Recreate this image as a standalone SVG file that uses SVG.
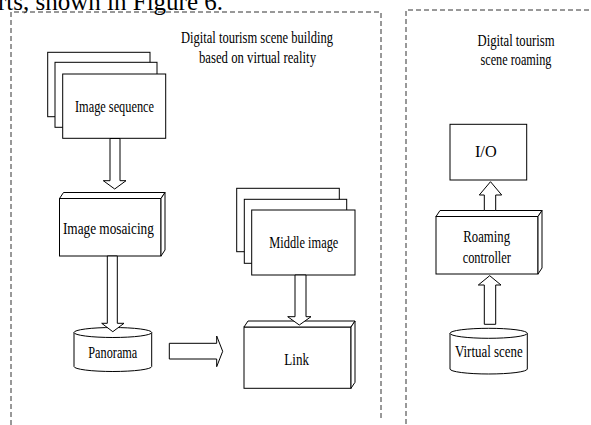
<svg xmlns="http://www.w3.org/2000/svg" width="591" height="425" viewBox="0 0 591 425">
<style>
.bx{fill:#fff;stroke:#000;stroke-width:1}
.ar{fill:#fff;stroke:#000;stroke-width:1}
.dash{fill:none;stroke:#333;stroke-width:1;stroke-dasharray:5,3}
text{font-family:"Liberation Serif","Times New Roman",serif;fill:#000}
.t{font-size:16.5px;text-anchor:middle}
</style>
<rect width="591" height="425" fill="#fff"/>
<text x="-2" y="10" style="font-size:25px">rts, shown in Figure 6.</text>
<g id="frames">
<path class="dash" d="M11,425 V12 H381 V421"/>
<path class="dash" d="M406,424 V10 H591"/>
</g>
<g id="titles">
<text class="t" x="257" y="43" textLength="152" lengthAdjust="spacingAndGlyphs">Digital tourism scene building</text>
<text class="t" x="257.5" y="63" textLength="117" lengthAdjust="spacingAndGlyphs">based on virtual reality</text>
<text class="t" x="516" y="45.5" textLength="77" lengthAdjust="spacingAndGlyphs">Digital tourism</text>
<text class="t" x="516" y="64.5" textLength="71" lengthAdjust="spacingAndGlyphs">scene roaming</text>
</g>
<g id="image-sequence">
<rect class="bx" x="47.7" y="52.3" width="102.3" height="64.4"/>
<rect class="bx" x="55" y="62.3" width="102" height="65"/>
<rect class="bx" x="62.7" y="74" width="103" height="64.3"/>
<text class="t" x="114.5" y="111.5" textLength="79" lengthAdjust="spacingAndGlyphs">Image sequence</text>
</g>
<g id="image-mosaicing">
<rect class="bx" x="59.5" y="198.5" width="101.5" height="57.5"/>
<path class="bx" d="M59.5,198.5 L63.5,192.5 H165 L161,198.5 Z"/>
<path class="bx" d="M161,198.5 L165,192.5 V250 L161,256 Z"/>
<text class="t" x="108.4" y="233.5" textLength="91" lengthAdjust="spacingAndGlyphs">Image mosaicing</text>
</g>
<g id="panorama">
<path class="bx" d="M74,332.5 V366.5 A38.85,5 0 0 0 151.7,366.5 V332.5"/>
<ellipse class="bx" cx="112.85" cy="332.5" rx="38.85" ry="5"/>
<text class="t" x="112.8" y="358" textLength="49" lengthAdjust="spacingAndGlyphs">Panorama</text>
</g>
<g id="middle-image">
<rect class="bx" x="236.7" y="188.3" width="102.6" height="63.4"/>
<rect class="bx" x="244.3" y="199.3" width="102.4" height="64"/>
<rect class="bx" x="251.7" y="210" width="103.3" height="65"/>
<text class="t" x="303.8" y="247.5" textLength="69" lengthAdjust="spacingAndGlyphs">Middle image</text>
</g>
<g id="link">
<rect class="bx" x="244" y="327" width="107" height="61.3"/>
<path class="bx" d="M244,327 L248,321 H355 L351,327 Z"/>
<path class="bx" d="M351,327 L355,321 V382.3 L351,388.3 Z"/>
<text class="t" x="296.7" y="364.5" textLength="24.7" lengthAdjust="spacingAndGlyphs">Link</text>
</g>
<g id="io">
<rect class="bx" x="450" y="124.3" width="76.7" height="55.7"/>
<text class="t" x="485.8" y="157" textLength="21.7" lengthAdjust="spacingAndGlyphs">I/O</text>
</g>
<g id="roaming-controller">
<rect class="bx" x="436" y="216.5" width="102" height="57.5"/>
<path class="bx" d="M436,216.5 L440,210.5 H542 L538,216.5 Z"/>
<path class="bx" d="M538,216.5 L542,210.5 V268 L538,274 Z"/>
<text class="t" x="486.7" y="242" textLength="46.7" lengthAdjust="spacingAndGlyphs">Roaming</text>
<text class="t" x="486.8" y="262.5" textLength="48.3" lengthAdjust="spacingAndGlyphs">controller</text>
</g>
<g id="virtual-scene">
<path class="bx" d="M450,333.3 V369 A38.65,5 0 0 0 527.3,369 V333.3"/>
<ellipse class="bx" cx="488.65" cy="333.3" rx="38.65" ry="5"/>
<text class="t" x="488.8" y="357" textLength="67.7" lengthAdjust="spacingAndGlyphs">Virtual scene</text>
</g>
<g id="connectors">
<path class="ar" d="M110,138.5 V180.7 H103.3 L114.7,189 L126,180.7 H120 V138.5 Z"/>
<path class="ar" d="M107.3,256 V323.3 H101.7 L112.8,331.7 L124,323.3 H117.3 V256 Z"/>
<path class="ar" d="M169.3,343.3 H216.7 V336 L222.7,351.3 L216.7,366.7 V359 H169.3 Z"/>
<path class="ar" d="M295,275 V316.7 H287.7 L299.3,325 L311,316.7 H306 V275 Z"/>
<path class="ar" d="M484.3,210.5 V195 H479.3 L490.5,181.7 L501.7,195 H495.7 V210.5 Z"/>
<path class="ar" d="M484.3,324.3 V285 H478.3 L489.7,275.7 L501,285 H495.7 V324.3 Z"/>
</g>
</svg>
